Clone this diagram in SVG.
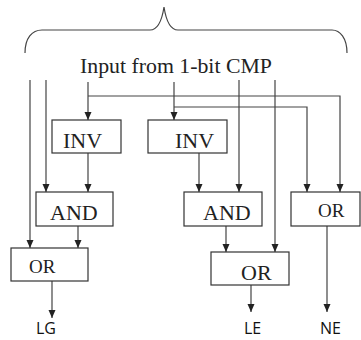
<svg xmlns="http://www.w3.org/2000/svg" width="361" height="340" viewBox="0 0 361 340">
<style>
.box{fill:#fff;stroke:#333;stroke-width:1.2}
.t{font-family:"Liberation Serif","Times New Roman",serif;fill:#222}
.s{font-family:"Open Sans","Liberation Sans",sans-serif;fill:#111;font-size:16px;text-anchor:middle}
.c{fill:none;stroke:#444;stroke-width:1.2}
</style>
<defs>
<marker id="ah" markerUnits="userSpaceOnUse" markerWidth="8" markerHeight="8" refX="8" refY="3.5" orient="auto">
<path d="M0,0 L8,3.5 L0,7 z" fill="#222"/>
</marker>
</defs>
<rect width="361" height="340" fill="#fff"/>
<g id="brace">
<path class="c" d="M25,53 C25,38 32,30 42,30 H150 C158,30 162,20 164,7 C166,20 170,30 178,30 H332 C340,30 347,38 347,53"/>
<text class="t" x="80" y="73" font-size="22" textLength="192" lengthAdjust="spacingAndGlyphs">Input from 1-bit CMP</text>
</g>
<g id="connectors">
<path class="c" d="M30,80 V248" marker-end="url(#ah)"/>
<path class="c" d="M46,80 V192" marker-end="url(#ah)"/>
<path class="c" d="M88,82 V120" marker-end="url(#ah)"/>
<path class="c" d="M88,96 H340 V192" marker-end="url(#ah)"/>
<path class="c" d="M174,82 V120" marker-end="url(#ah)"/>
<path class="c" d="M174,107 H307 V192" marker-end="url(#ah)"/>
<path class="c" d="M239,80 V192" marker-end="url(#ah)"/>
<path class="c" d="M275,80 V252" marker-end="url(#ah)"/>
<path class="c" d="M88,153 V192" marker-end="url(#ah)"/>
<path class="c" d="M199,153 V192" marker-end="url(#ah)"/>
<path class="c" d="M78,226 V248" marker-end="url(#ah)"/>
<path class="c" d="M226,226 V252" marker-end="url(#ah)"/>
<path class="c" d="M52,281 V318" marker-end="url(#ah)"/>
<path class="c" d="M251,285 V312" marker-end="url(#ah)"/>
<path class="c" d="M327,226 V312" marker-end="url(#ah)"/>
</g>
<g id="inv1"><rect class="box" x="52" y="120" width="69" height="33"/><text class="t" x="63" y="148" font-size="22">INV</text></g>
<g id="inv2"><rect class="box" x="148" y="120" width="79" height="33"/><text class="t" x="175" y="148" font-size="22">INV</text></g>
<g id="and1"><rect class="box" x="36" y="192" width="77" height="34"/><text class="t" x="50" y="220" font-size="22">AND</text></g>
<g id="and2"><rect class="box" x="184" y="192" width="78" height="34"/><text class="t" x="203" y="220" font-size="22">AND</text></g>
<g id="or3"><rect class="box" x="291" y="192" width="69" height="34"/><text class="t" x="318" y="217" font-size="19">OR</text></g>
<g id="or1"><rect class="box" x="11" y="248" width="77" height="33"/><text class="t" x="29" y="273" font-size="19">OR</text></g>
<g id="or2"><rect class="box" x="211" y="252" width="78" height="33"/><text class="t" x="241" y="280" font-size="22">OR</text></g>
<g id="labels">
<text class="s" x="46" y="334">LG</text>
<text class="s" x="252.5" y="334">LE</text>
<text class="s" x="330.5" y="334">NE</text>
</g>
</svg>
